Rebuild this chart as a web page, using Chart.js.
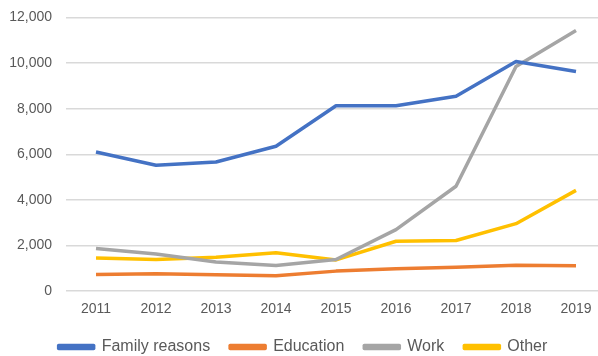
<!DOCTYPE html>
<html>
<head>
<meta charset="utf-8">
<script src="https://cdn.jsdelivr.net/npm/chart.js@4"></script>
<style>
  html, body { margin: 0; padding: 0; background: #fff; overflow: hidden; }
  #wrap { position: relative; top: -5px; width: 606px; height: 370px; }
</style>
</head>
<body>
<div id="wrap"><canvas id="myChart"></canvas></div>
<script>
// years on the x axis
const years = ["2011","2012","2013","2014","2015","2016","2017","2018","2019"];

// series
const familyReasons = [6100,5520,5660,6350,8130,8130,8540,10070,9630];
const education = [730,770,720,680,880,980,1050,1140,1110];
const work = [1870,1630,1280,1130,1390,2700,4600,9850,11430];
const other = [1460,1390,1490,1690,1370,2190,2220,2960,4420];

function makeSet(label, values, color) {
  return {
    label: label,
    data: values,
    borderColor: color,
    backgroundColor: color,
    borderWidth: 3.5,
    pointRadius: 0,
    tension: 0,
    borderJoinStyle: "round"
  };
}

new Chart("myChart", {
  type: "line",
  data: {
    labels: years,
    datasets: [
      makeSet("Family reasons", familyReasons, "#4472C4"),
      makeSet("Education", education, "#ED7D31"),
      makeSet("Work", work, "#A5A5A5"),
      makeSet("Other", other, "#FFC000")
    ]
  },
  options: {
    responsive: true,
    maintainAspectRatio: false,
    animation: false,
    layout: { padding: { left: 0, right: 0, top: 2, bottom: 0 } },
    plugins: {
      tooltip: { enabled: false },
      legend: {
        position: "bottom",
        labels: {
          boxWidth: 35,
          boxHeight: 3,
          padding: 20,
          color: "#595959",
          font: { family: "'Liberation Sans', Arial, sans-serif", size: 16 }
        }
      }
    },
    scales: {
      x: {
        offset: true,
        // pull the legend up a bit, labels stay put
        afterFit: function (scale) { scale.height = scale.height - 9; },
        grid: { display: false, drawTicks: false },
        border: { display: false },
        ticks: {
          color: "#595959",
          padding: 10,
          font: { family: "'Liberation Sans', Arial, sans-serif", size: 14 }
        }
      },
      y: {
        min: 0,
        max: 12000,
        afterFit: function (scale) { scale.width = 66; },
        grid: { color: "#D9D9D9", lineWidth: 1.5, drawTicks: false },
        border: { display: false },
        ticks: {
          stepSize: 2000,
          color: "#595959",
          padding: 14,
          font: { family: "'Liberation Sans', Arial, sans-serif", size: 14 },
          callback: function (v) { return v.toLocaleString("en-US"); }
        }
      }
    }
  }
});
</script>
</body>
</html>
